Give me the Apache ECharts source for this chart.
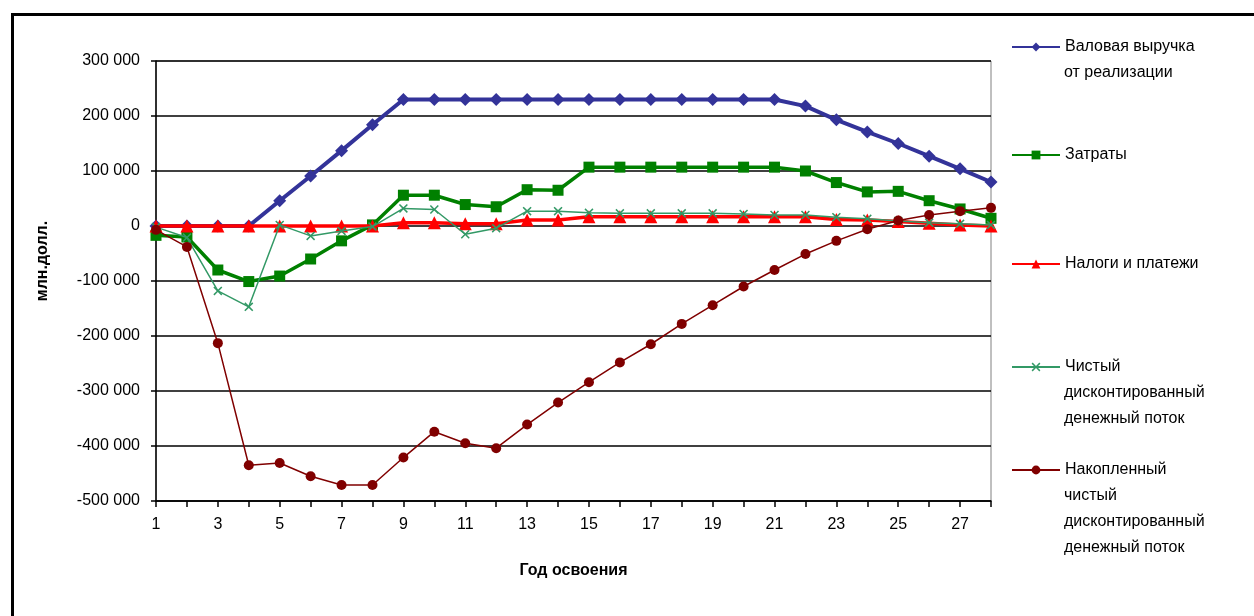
<!DOCTYPE html>
<html>
<head>
<meta charset="utf-8">
<script src="https://cdn.jsdelivr.net/npm/echarts@6/dist/echarts.min.js"></script>
<style>
html,body{margin:0;padding:0;background:#fff;}
#chart{width:1254px;height:616px;}
</style>
</head>
<body>
<div id="chart"></div>
<script>
const years = ['1','2','3','4','5','6','7','8','9','10','11','12','13','14','15','16','17','18','19','20','21','22','23','24','25','26','27','28'];
const revenue = [0,0,0,0,46000,91000,137000,184000,230000,230000,230000,230000,230000,230000,230000,230000,230000,230000,230000,230000,230000,218000,193000,171000,150000,127000,104000,80000];
const costs = [-17000,-20000,-80000,-101000,-91000,-60000,-27000,2000,56000,56000,39000,35000,66000,65000,107000,107000,107000,107000,107000,107000,107000,100000,79000,62000,63000,46000,31000,14000];
const taxes = [0,0,0,0,0,0,0,0,6000,6000,4000,4000,11000,11000,17000,17000,17000,17000,17000,17000,17000,17000,12000,11000,8000,5000,2000,0];
const netDiscounted = [-2000,-21000,-118000,-147000,2000,-18000,-9000,-1000,32000,30000,-15000,-4000,27000,27000,24000,23000,23000,23000,23000,22000,20000,20000,16000,13000,9000,6000,4000,2000];
const cumulative = [-7000,-38000,-213000,-435000,-431000,-455000,-471000,-471000,-421000,-374000,-395000,-404000,-361000,-321000,-284000,-248000,-215000,-178000,-144000,-110000,-80000,-51000,-27000,-6000,10000,20000,27000,33000];

const seriesNames = ['Валовая выручка', 'Затраты', 'Налоги и платежи', 'Чистый', 'Накопленный'];
const extraLegendLines = [['от реализации'], [], [], ['дисконтированный', 'денежный поток'], ['чистый', 'дисконтированный', 'денежный поток']];
const yAxisTitle = 'млн.долл.';
const xAxisTitle = 'Год освоения';

const FONT = 'Liberation Sans, Arial, sans-serif';
const chart = echarts.init(document.getElementById('chart'));

const legendCenters = [47, 155, 264, 367, 470];
const legends = seriesNames.map((n, i) => ({
  data: [n],
  orient: 'vertical',
  left: 1011,
  top: legendCenters[i] - 10,
  padding: 0,
  itemWidth: 48,
  itemHeight: 11,
  itemGap: 0,
  selectedMode: false,
  textStyle: {fontFamily: FONT, fontSize: 16, color: '#000', lineHeight: 20}
}));

const graphics = [
  {type: 'rect', left: 10, top: 12, shape: {x: 0, y: 0, width: 1300, height: 700}, style: {fill: 'none', stroke: '#000', lineWidth: 3}, silent: true},
  {type: 'text', x: 43, y: 261, rotation: Math.PI / 2, style: {text: yAxisTitle, font: 'bold 16px ' + FONT, fill: '#000', align: 'center', verticalAlign: 'middle'}}
];
extraLegendLines.forEach((lines, i) => {
  lines.forEach((t, j) => {
    graphics.push({type: 'text', x: 1064, y: legendCenters[i] + 26 * (j + 1), style: {text: t, font: '16px ' + FONT, fill: '#000', align: 'left', verticalAlign: 'middle'}});
  });
});

const xMark = 'path://M0,1.2L1.2,0L5,3.8L8.8,0L10,1.2L6.2,5L10,8.8L8.8,10L5,6.2L1.2,10L0,8.8L3.8,5Z';

chart.setOption({
  animation: false,
  textStyle: {fontFamily: FONT},
  grid: {left: 156, right: 263, top: 61, bottom: 115, show: true, borderColor: '#808080', borderWidth: 1, backgroundColor: 'transparent'},
  legend: legends,
  graphic: graphics,
  xAxis: {
    type: 'category',
    data: years,
    boundaryGap: false,
    name: xAxisTitle,
    nameLocation: 'middle',
    nameGap: 62,
    nameTextStyle: {fontFamily: FONT, fontSize: 16, fontWeight: 'bold', color: '#000'},
    axisLine: {onZero: false, lineStyle: {color: '#000', width: 1.5}},
    axisTick: {interval: 0, length: 6, lineStyle: {color: '#000', width: 1.5}},
    axisLabel: {interval: 1, margin: 16, fontSize: 16, color: '#000', fontFamily: FONT},
    splitLine: {show: false}
  },
  yAxis: {
    type: 'value',
    min: -500000,
    max: 300000,
    interval: 100000,
    axisLine: {show: true, lineStyle: {color: '#000', width: 1.5}},
    axisTick: {show: true, length: 5, lineStyle: {color: '#000', width: 1.5}},
    axisLabel: {margin: 16, fontSize: 16, color: '#000', fontFamily: FONT,
      formatter: v => {
        const s = Math.abs(v).toString().replace(/\B(?=(\d{3})+(?!\d))/g, ' ');
        return (v < 0 ? '-' : '') + s;
      }},
    splitLine: {show: true, lineStyle: {color: '#000', width: 1.5}}
  },
  series: [
    {name: seriesNames[0], type: 'line', data: revenue, symbol: 'diamond', symbolSize: 13,
     lineStyle: {color: '#333399', width: 4}, itemStyle: {color: '#333399'}, z: 2},
    {name: seriesNames[1], type: 'line', data: costs, symbol: 'rect', symbolSize: 11,
     lineStyle: {color: '#008000', width: 3.5}, itemStyle: {color: '#008000'}, z: 3},
    {name: seriesNames[2], type: 'line', data: taxes, symbol: 'triangle', symbolSize: 13,
     lineStyle: {color: '#FF0000', width: 3.5}, itemStyle: {color: '#FF0000'}, z: 4},
    {name: seriesNames[3], type: 'line', data: netDiscounted, symbol: xMark, symbolSize: 9,
     lineStyle: {color: '#339966', width: 1.5}, itemStyle: {color: '#339966'}, z: 5},
    {name: seriesNames[4], type: 'line', data: cumulative, symbol: 'circle', symbolSize: 10,
     lineStyle: {color: '#800000', width: 1.5}, itemStyle: {color: '#800000'}, z: 6}
  ]
});
</script>
</body>
</html>
